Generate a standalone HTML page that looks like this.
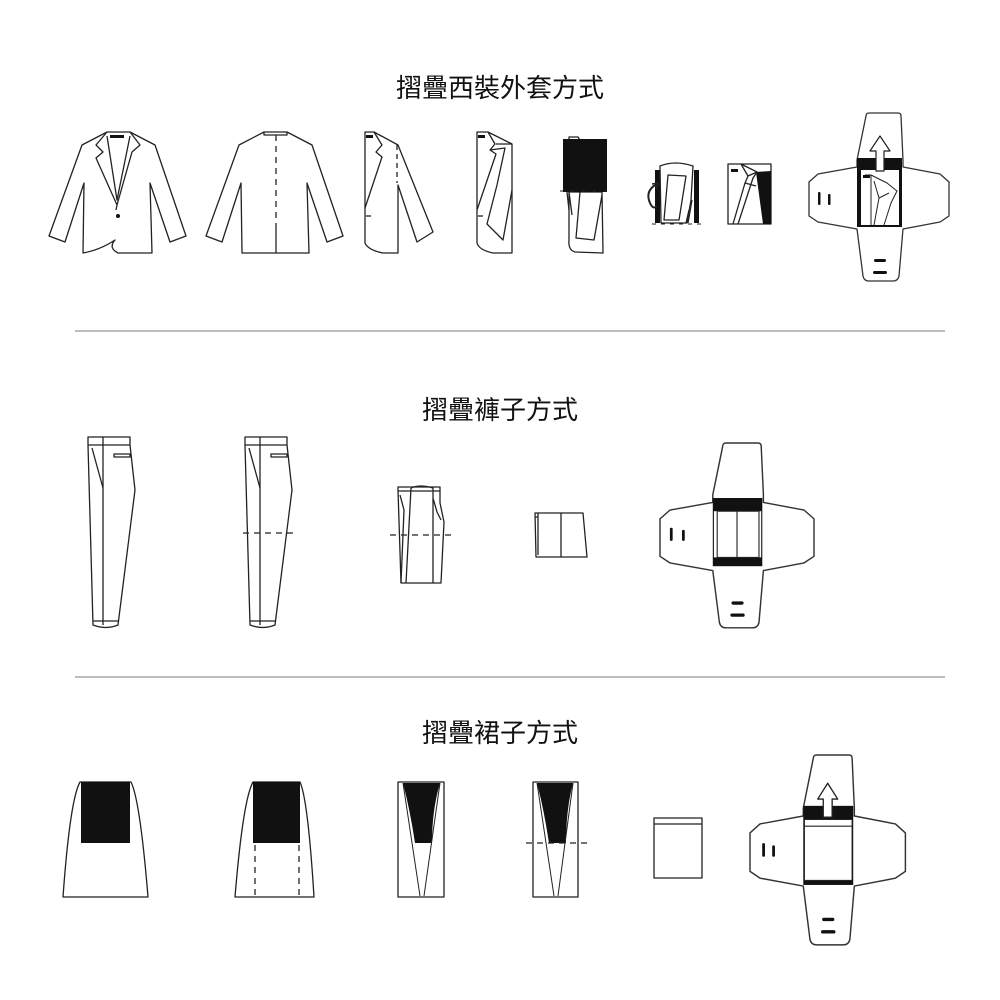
<!DOCTYPE html>
<html><head><meta charset="utf-8"><style>
html,body{margin:0;padding:0;background:#fff}
svg{display:block}
text{font-family:"Liberation Sans","Noto Sans CJK TC",sans-serif;fill:#111}
</style></head><body>
<svg width="1000" height="1000" viewBox="0 0 1000 1000" xmlns="http://www.w3.org/2000/svg">
<defs>
<path id="case" d="M57,3 Q57,0 60,0 L89,0 Q92,0 92,3 L94,47 L94,54 L131,61 L140,69 L140,103 L131,109 L94,116 L90,163 Q89,168 84,168 L60,168 Q55,168 54,163 L48,116 L9,109 L0,103 L0,69 L9,61 L48,54 L48,47 Z" fill="#fff" stroke="#333" stroke-width="1.3"/>
</defs>
<text x="500" y="97" font-size="26" text-anchor="middle">摺疊西裝外套方式</text>
<text x="500" y="419" font-size="26" text-anchor="middle">摺疊褲子方式</text>
<text x="500" y="742" font-size="26" text-anchor="middle">摺疊裙子方式</text>
<rect x="75" y="330" width="870" height="2" fill="#bdbdbd"/>
<rect x="75" y="676" width="870" height="2" fill="#bdbdbd"/>

<g fill="#fff" stroke="#222" stroke-width="1.3" stroke-linejoin="round">
<!-- jacket 1 -->
<path d="M107,132 L130,132 L155,145 L186,236 L170,242 L150,183 L152,253 L118,253 Q108,248 115,240 Q100,250 83,253 L84,183 L65,242 L49,236 L82,145 Z"/>
<path d="M107,132 L96,145 L103,152 L96,158 L117,205 M130,132 L140,145 L132,152 L117,205 L116,210 M107,136 L117,200 L130,136" fill="none"/>
<rect x="110" y="135" width="14" height="3" fill="#111" stroke="none"/>
<circle cx="118" cy="216" r="2" fill="#111" stroke="none"/>
<!-- jacket 2 -->
<path d="M264,132 L287,132 L312,145 L343,236 L327,242 L307,183 L309,253 L242,253 L241,183 L222,242 L206,236 L239,145 Z"/>
<path d="M264,132 L264,135 L287,135 L287,132" fill="none"/>
<line x1="276" y1="135" x2="276" y2="228" stroke-dasharray="6,5"/>
<line x1="276" y1="228" x2="276" y2="253"/>
<!-- jacket 3 -->
<path d="M365,132 L374,132 L398,145 L433,232 L417,242 L398,185 L398,253 L383,253 Q368,250 365,243 Z"/>
<path d="M374,132 L382,145 L376,152 L382,157 L365,208" fill="none"/>
<line x1="397" y1="145" x2="397" y2="183" stroke-dasharray="5,4"/>
<line x1="366" y1="216" x2="371" y2="216"/>
<rect x="366" y="135" width="7" height="3" fill="#111" stroke="none"/>
<!-- jacket 4 -->
<path d="M477,132 L488,132 L512,144 L512,253 L493,253 Q479,250 477,243 Z"/>
<path d="M488,132 L495,144 L490,150 L496,154 L477,210 M496,144 L512,144 M490,150 L505,148 L497,185 L487,224 L503,240 L512,190" fill="none"/>
<line x1="478" y1="216" x2="483" y2="216"/>
<rect x="478" y="135" width="7" height="3" fill="#111" stroke="none"/>
<!-- jacket 5 -->
<path d="M569,192 L602,192 L603,253 L575,252 Q568,250 569,240 Z"/>
<path d="M580,192 L576,238 L594,240 L602,195" fill="none"/>
<path d="M569,192 L572,215 M567,192 L569,210" fill="none"/>
<path d="M569,137 L578,137 L581,142 L569,142 Z"/>
<rect x="563" y="139" width="44" height="53" fill="#111" stroke="none"/>
<line x1="560" y1="191" x2="612" y2="191" stroke-dasharray="3,8" stroke-width="1"/>
<!-- jacket 6 -->
<rect x="655" y="170" width="5" height="53" fill="#111" stroke="none"/>
<rect x="694" y="170" width="5" height="53" fill="#111" stroke="none"/>
<path d="M660,166 Q675,160 693,166 L691,200 L687,223 L661,223 Z"/>
<path d="M668,175 L686,176 L679,220 L664,220 Z" fill="none"/>
<path d="M689,210 L686,223 M692,200 L688,223" fill="none"/>
<path d="M655,185 Q645,192 650,203 Q653,210 657,206" fill="none" stroke-width="2"/>
<path d="M652,184 L658,183 L656,189" fill="none" stroke-width="1.5"/>
<line x1="652" y1="224" x2="702" y2="224" stroke-dasharray="4,5" stroke-width="1"/>
<!-- jacket 7 -->
<rect x="728" y="164" width="43" height="60"/>
<path d="M756,172 L771,171 L771,224 L763,224 Z" fill="#111" stroke="none"/>
<path d="M741,164 L757,172 L753,178 L738,224 M741,164 L748,176 L745,183 L733,224 M748,176 L757,172 M745,183 L756,186" fill="none"/>
<rect x="731" y="169" width="7" height="3" fill="#111" stroke="none"/>

<!-- case 1 -->
<g transform="translate(809,113)">
<use href="#case"/>
<rect x="48" y="45" width="45" height="69" fill="#111" stroke="none"/>
<rect x="52" y="57" width="38" height="55" fill="#fff" stroke="none"/>
<path d="M56,62 L62,62 L62,112 M62,62 L78,70 L88,78 L82,90 L75,112 M65,68 L70,85 L65,112 M70,85 L80,80" fill="none" stroke-width="1"/>
<rect x="54" y="62" width="7" height="3" fill="#111" stroke="none"/>
<path d="M71,23 L81,38 L75,38 L75,58 L67,58 L67,38 L61,38 Z" fill="#fff" stroke="#222" stroke-width="1.2"/>
<rect x="9" y="79" width="2.5" height="13" rx="1" fill="#111" stroke="none"/>
<rect x="19" y="81" width="2.5" height="11" rx="1" fill="#111" stroke="none"/>
<rect x="65" y="146" width="12" height="3" rx="1.5" fill="#111" stroke="none"/>
<rect x="64" y="158" width="14" height="3" rx="1.5" fill="#111" stroke="none"/>
</g>

<!-- pants 1 -->
<g id="p1">
<path d="M88,437 L130,437 L130,445 L135,490 L118,625 Q106,630 93,625 L88,445 Z"/>
<line x1="88" y1="445" x2="130" y2="445"/>
<line x1="103" y1="437" x2="103" y2="625"/>
<line x1="92" y1="448" x2="103" y2="488"/>
<rect x="114" y="454" width="16" height="3"/>
<line x1="93" y1="621" x2="118" y2="621"/>
</g>
<use href="#p1" transform="translate(157,0)"/>
<line x1="243" y1="533" x2="298" y2="533" stroke-dasharray="6,5"/>
<!-- pants 3 -->
<path d="M398,487 L440,487 L440,503 L444,522 L441,583 L401,583 L398,490 Z"/>
<path d="M398,491 L440,491 M411,488 Q420,484 433,488 L433,583 M400,495 L404,510 L401,583 M411,488 L406,583 M433,498 L437,512 L441,520" fill="none"/>
<line x1="390" y1="535" x2="455" y2="535" stroke-dasharray="6,5"/>
<!-- pants 4 -->
<path d="M535,513 L583,513 L587,557 L536,557 Z"/>
<path d="M538,513 L538,555 M535,517 L538,517 M561,513 L561,557" fill="none"/>

<!-- case 2 -->
<g transform="translate(660,443) scale(1.1)">
<use href="#case"/>
<rect x="48" y="50" width="45" height="62" fill="#111" stroke="none"/>
<rect x="49" y="62" width="43" height="42" fill="#fff" stroke="none"/>
<path d="M52,62 L52,104 M70,62 L70,104 M52,62 L90,62 L90,104 L52,104" fill="none" stroke-width="1"/>
<rect x="9" y="77" width="2.5" height="12" rx="1" fill="#111" stroke="none"/>
<rect x="20" y="79" width="2.5" height="10" rx="1" fill="#111" stroke="none"/>
<rect x="65" y="144" width="11" height="3" rx="1.5" fill="#111" stroke="none"/>
<rect x="64" y="155" width="13" height="3" rx="1.5" fill="#111" stroke="none"/>
</g>

<!-- skirt 1 -->
<path d="M80,782 L131,782 Q140,800 148,897 L63,897 Q70,800 80,782 Z"/>
<rect x="81" y="782" width="49" height="61" fill="#111" stroke="none"/>
<!-- skirt 2 -->
<path d="M253,782 L300,782 Q308,800 314,897 L235,897 Q243,800 253,782 Z"/>
<rect x="253" y="782" width="47" height="61" fill="#111" stroke="none"/>
<line x1="255" y1="845" x2="255" y2="897" stroke-dasharray="6,5"/>
<line x1="299" y1="845" x2="299" y2="897" stroke-dasharray="6,5"/>
<!-- skirt 3 -->
<rect x="398" y="782" width="46" height="115"/>
<path d="M403,783 L440,783 Q432,810 432,843 L415,843 Q410,810 403,783 Z" fill="#111" stroke="none"/>
<path d="M403,783 L420,896 M440,783 L424,896 M398,782 L398,897" fill="none" stroke-width="1"/>
<!-- skirt 4 -->
<rect x="533" y="782" width="45" height="115"/>
<path d="M537,783 L573,783 Q566,810 566,843 L549,843 Q544,810 537,783 Z" fill="#111" stroke="none"/>
<path d="M537,783 L554,896 M573,783 L558,896" fill="none" stroke-width="1"/>
<line x1="526" y1="843" x2="590" y2="843" stroke-dasharray="6,5"/>
<!-- skirt 5 -->
<rect x="654" y="818" width="48" height="60"/>
<line x1="654" y1="824" x2="702" y2="824"/>

<!-- case 3 -->
<g transform="translate(750,755) scale(1.11,1.13)">
<use href="#case"/>
<rect x="48" y="45" width="45" height="70" fill="#111" stroke="none"/>
<rect x="49" y="57" width="43" height="54" fill="#fff" stroke="none"/>
<path d="M49,57 L92,57 L92,111 L49,111 Z M49,63 L92,63" fill="none" stroke-width="1"/>
<path d="M70,25 L79,39 L74,39 L74,55 L66,55 L66,39 L61,39 Z" fill="#fff" stroke="#222" stroke-width="1.2"/>
<rect x="11" y="78" width="2.5" height="12" rx="1" fill="#111" stroke="none"/>
<rect x="20" y="80" width="2.5" height="10" rx="1" fill="#111" stroke="none"/>
<rect x="65" y="144" width="11" height="3" rx="1.5" fill="#111" stroke="none"/>
<rect x="64" y="155" width="13" height="3" rx="1.5" fill="#111" stroke="none"/>
</g>
</g>
</svg>
</body></html>
